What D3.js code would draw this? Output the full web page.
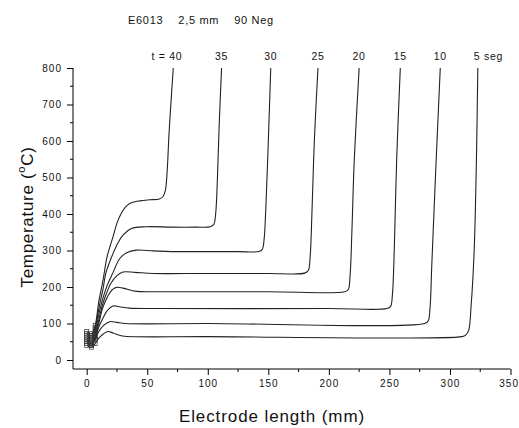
<!DOCTYPE html>
<html>
<head>
<meta charset="utf-8">
<script src="https://cdn.jsdelivr.net/npm/d3@7"></script>
<style>
  body { margin: 0; background: #fff; }
  text { font-family: "Liberation Sans", Arial, sans-serif; fill: #111; }
</style>
</head>
<body>
<div id="chart"></div>
<script>
// time labels (seconds) for each curve
let times = ["40", "35", "30", "25", "20", "15", "10", "5"];

// curve points [length mm, temperature C]
let t40 = [[0,78],[4,72],[7,95],[10,160],[13.5,219],[17,285],[21.8,338],[25,375],[28.7,403],[32,419],[35.6,429],[43.9,436],[52,439],[60,441],[63,448],[65,465],[66.5,520],[68,620],[69.5,700],[71.5,800]];
let t35 = [[0,72],[4,66],[7,88],[10,140],[13.5,195],[16,240],[21.8,292],[26,322],[30,342],[37,360],[49,365],[70,364],[90,364],[102,365],[105,372],[106.5,400],[108,500],[109.5,650],[111.4,800]];
let t30 = [[0,66],[4,60],[7,80],[10,125],[13.5,170],[17,205],[21.8,240],[27.3,278],[33,294],[41,301],[55,299],[70,297],[100,297],[125,297],[142,297],[145,303],[146.5,330],[148,420],[150,600],[152,800]];
let t25 = [[0,60],[4,54],[7,72],[10,110],[13,150],[16.3,182],[20,210],[25,231],[30,241],[40,240],[55,237],[100,237],[150,237],[180,238],[183,245],[184.5,280],[186,400],[188,600],[191,800]];
let t20 = [[0,55],[4,49],[7,65],[10,100],[13,140],[17,172],[21,192],[24.5,199],[30,197],[41,188],[60,187],[150,187],[213,187],[216,193],[217.5,230],[219,350],[221,550],[225,800]];
let t15 = [[0,50],[4,44],[7,60],[10,90],[13.5,115],[17,135],[21.8,148],[27,146],[35,142],[60,141],[200,141],[248,141],[251,147],[252.5,180],[254,300],[256,550],[259,800]];
let t10 = [[0,45],[4,40],[7,55],[10,78],[14,95],[19,105],[25,103],[32,100],[100,100],[279,100],[282,107],[283.5,140],[285,260],[288,500],[292,800]];
let t5 = [[0,40],[4,35],[7,45],[10,60],[14,72],[17.6,78],[21.8,74],[27,68],[31.4,65],[100,64],[310,64],[313,68],[315.5,82],[317.5,150],[320,300],[322,575],[323,800]];

let curves = [t40, t35, t30, t25, t20, t15, t10, t5];

let xTicks = [0, 50, 100, 150, 200, 250, 300, 350];
let yTicks = [0, 100, 200, 300, 400, 500, 600, 700, 800];

let W = 519, H = 428;

let svg = d3.select("#chart")
            .append("svg")
            .attr("width", W)
            .attr("height", H);

let x = d3.scaleLinear().domain([-11.3, 350]).range([73, 510.5]);
let y = d3.scaleLinear().domain([-24.7, 800]).range([369, 68]);

// title
svg.append("text")
   .attr("x", 128).attr("y", 24)
   .attr("font-size", 11)
   .attr("xml:space", "preserve")
   .style("white-space", "pre")
   .style("letter-spacing", "0.7px")
   .text("E6013    2,5 mm    90 Neg");

// axes
let xAxis = d3.axisBottom(x).tickValues(xTicks).tickSize(6).tickPadding(5);
let yAxis = d3.axisLeft(y).tickValues(yTicks).tickSize(6).tickPadding(5);

let gx = svg.append("g").attr("transform", "translate(0,369)").call(xAxis);
let gy = svg.append("g").attr("transform", "translate(73,0)").call(yAxis);

// minor ticks
gx.selectAll(".minor")
  .data(d3.range(25, 350, 50))
  .enter().append("line")
  .attr("x1", d => x(d)).attr("x2", d => x(d))
  .attr("y1", 0).attr("y2", 3)
  .attr("stroke", "#000");
gy.selectAll(".minor")
  .data(d3.range(50, 800, 100))
  .enter().append("line")
  .attr("y1", d => y(d)).attr("y2", d => y(d))
  .attr("x1", 0).attr("x2", -3)
  .attr("stroke", "#000");

[gx, gy].forEach(g => {
    g.selectAll("text").attr("font-size", 10).style("letter-spacing", "1px")
     .style("font-family", "'Liberation Sans', Arial, sans-serif").attr("fill", "#111");
    g.selectAll("path, line").attr("stroke", "#000");
});
// last x label sits right at the edge, keep it inside
gx.selectAll(".tick text").filter(d => d == 350).attr("text-anchor", "end").attr("dx", 8);
gy.select(".domain").attr("d", "M0," + y(800) + "V369");
gx.select(".domain").attr("d", "M73,0H" + x(350));

// axis titles
svg.append("text")
   .attr("x", 272).attr("y", 422)
   .attr("text-anchor", "middle")
   .attr("font-size", 17)
   .style("letter-spacing", "0.9px")
   .text("Electrode length (mm)");

let yt = svg.append("text")
   .attr("transform", "translate(33,217) rotate(-90)")
   .attr("text-anchor", "middle")
   .attr("font-size", 17)
   .style("letter-spacing", "0.7px");
yt.append("tspan").text("Temperature (");
yt.append("tspan").attr("font-size", 11).attr("dy", -8).text("o");
yt.append("tspan").attr("dy", 8).text("C)");

// curves
let line = d3.line()
             .x(d => x(d[0]))
             .y(d => y(d[1]))
             .curve(d3.curveCatmullRom.alpha(0.5));

svg.append("g")
   .selectAll("path")
   .data(curves)
   .enter()
   .append("path")
   .attr("d", line)
   .attr("fill", "none")
   .attr("stroke", "#222")
   .attr("stroke-width", 1.1);

// little square markers at the start of each curve
svg.append("g")
   .selectAll("g")
   .data(curves)
   .enter().append("g")
   .selectAll("rect")
   .data(d => d.slice(0, 3))
   .enter().append("rect")
   .attr("x", d => x(d[0]) - 2)
   .attr("y", d => y(d[1]) - 2)
   .attr("width", 4).attr("height", 4)
   .attr("fill", "none")
   .attr("stroke", "#333")
   .attr("stroke-width", 0.7);

// time labels above each curve
svg.append("g")
   .selectAll("text")
   .data(curves)
   .enter().append("text")
   .attr("x", (d, i) => x(d[d.length - 1][0]) + (i == 0 ? 9 : i == 7 ? -4 : 0))
   .attr("y", 60)
   .attr("font-size", 10.5)
   .style("letter-spacing", "0.7px")
   .attr("text-anchor", (d, i) => i == 0 ? "end" : i == 7 ? "start" : "middle")
   .text((d, i) => i == 0 ? "t = " + times[i] : i == 7 ? times[i] + " seg" : times[i]);
</script>
</body>
</html>
